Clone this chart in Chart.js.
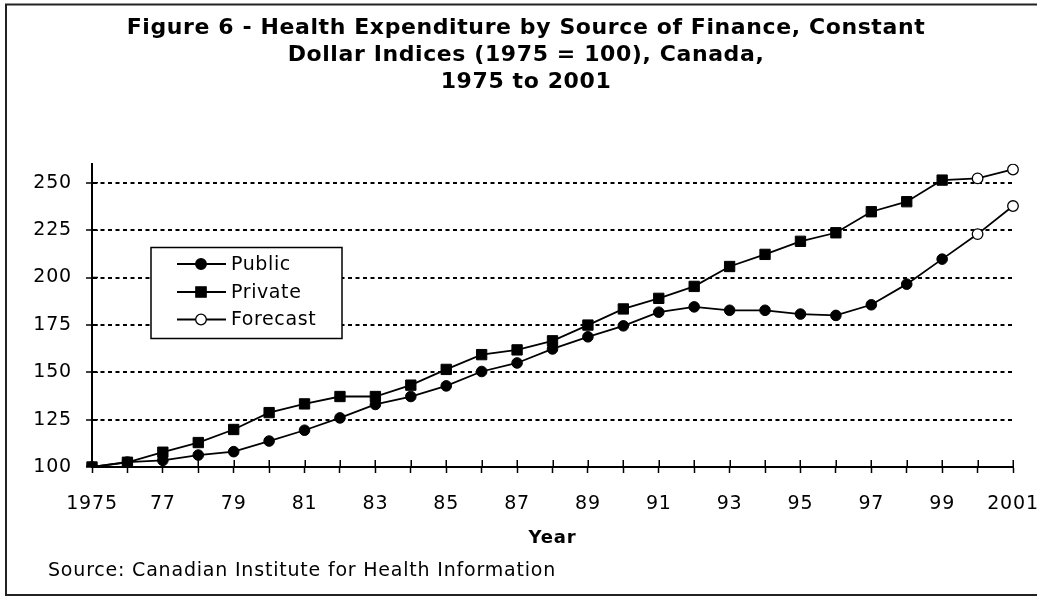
<!DOCTYPE html>
<html>
<head>
<meta charset="utf-8">
<script src="https://cdn.jsdelivr.net/npm/chart.js@4/dist/chart.umd.min.js"></script>
<style>
  html, body { margin: 0; padding: 0; background: #fff; }
  #wrap { width: 1037px; height: 597px; position: relative; }
</style>
</head>
<body>
<div id="wrap"><canvas id="c" width="1037" height="597"></canvas></div>
<script>
// ---- Data ----
const years = ['1975','1976','1977','1978','1979','1980','1981','1982','1983','1984','1985','1986','1987','1988','1989','1990','1991','1992','1993','1994','1995','1996','1997','1998','1999','2000','2001'];
const xTickLabels = ['1975','','77','','79','','81','','83','','85','','87','','89','','91','','93','','95','','97','','99','','2001'];
const yTickValues = [100, 125, 150, 175, 200, 225, 250];
const publicValues = [100, 102.6, 103.5, 106.3, 108.1, 113.7, 119.4, 125.9, 133.0, 137.2, 142.8, 150.4, 154.9, 162.3, 168.7, 174.5, 181.7, 184.5, 182.7, 182.7, 180.7, 180.0, 185.6, 196.5, 209.7];
const privateValues = [100, 102.5, 107.8, 112.9, 119.8, 128.7, 133.3, 137.2, 137.2, 143.2, 151.5, 159.3, 161.8, 166.6, 174.9, 183.4, 189.0, 195.3, 205.8, 212.2, 219.1, 223.6, 234.7, 240.0, 251.4];
const forecastPublic = [222.9, 237.7];
const forecastPrivate = [252.3, 257.0];
const titleLines = ['Figure 6 - Health Expenditure by Source of Finance, Constant', 'Dollar Indices (1975 = 100), Canada,', '1975 to 2001'];
const sourceText = 'Source: Canadian Institute for Health Information';
const legendLabels = ['Public', 'Private', 'Forecast'];

// build forecast series joined to last actual point (1999)
const nActual = publicValues.length;
function forecastSeries(actual, fc) {
  const arr = years.map(() => null);
  arr[nActual - 1] = actual[nActual - 1];
  fc.forEach((v, i) => { arr[nActual + i] = v; });
  return arr;
}
const fcPub = forecastSeries(publicValues, forecastPublic);
const fcPriv = forecastSeries(privateValues, forecastPrivate);

const FONT = "'DejaVu Sans', Verdana, sans-serif";
const SPACING = '0.8px';

const decorPlugin = {
  id: 'decor',
  beforeLayout(chart) { chart.ctx.letterSpacing = SPACING; },
  beforeDraw(chart) {
    const ctx = chart.ctx;
    ctx.letterSpacing = SPACING;
    ctx.save();
    ctx.fillStyle = '#fff';
    ctx.fillRect(0, 0, chart.width, chart.height);
    ctx.restore();
  },
  afterDraw(chart) {
    const ctx = chart.ctx;
    const xs = chart.scales.x, ys = chart.scales.y;
    ctx.save();
    // outer frame
    ctx.strokeStyle = '#222';
    ctx.lineWidth = 2;
    ctx.strokeRect(6, 4.5, 1060, 590.5);
    // title
    ctx.fillStyle = '#000';
    ctx.textAlign = 'center';
    ctx.textBaseline = 'alphabetic';
    ctx.font = "bold 22px " + FONT;
    ctx.letterSpacing = '0.6px';
    const tb = [33.8, 60.8, 87.8];
    titleLines.forEach((t, i) => ctx.fillText(t, 526, tb[i]));
    // source
    ctx.textAlign = 'left';
    ctx.font = "19px " + FONT;
    ctx.letterSpacing = '0.8px';
    ctx.fillText(sourceText, 48, 575.5);
    // inner halves of crossing tick marks
    ctx.strokeStyle = '#000';
    ctx.lineWidth = 1.5;
    ctx.beginPath();
    xs.ticks.forEach((t, i) => {
      const x = Math.round(xs.getPixelForTick(i)) + 0.25;
      ctx.moveTo(x, xs.top); ctx.lineTo(x, xs.top - 7);
    });
    ys.ticks.forEach((t, i) => {
      const y = ys.getPixelForValue(t.value);
      ctx.moveTo(ys.right, y); ctx.lineTo(ys.right + 6, y);
    });
    ctx.stroke();
    // legend
    const lx = 151, ly = 247.5, lw = 191, lh = 91;
    ctx.fillStyle = '#fff';
    ctx.fillRect(lx, ly, lw, lh);
    ctx.strokeStyle = '#000';
    ctx.lineWidth = 1.5;
    ctx.strokeRect(lx, ly, lw, lh);
    const rows = [264, 292, 319.5];
    const styles = [
      {style: 'circle', r: 5.3, fill: '#000'},
      {style: 'rect', r: 7.3, fill: '#000'},
      {style: 'circle', r: 5.3, fill: '#fff'}
    ];
    ctx.font = "19px " + FONT;
    ctx.letterSpacing = '0.6px';
    ctx.textBaseline = 'middle';
    ctx.textAlign = 'left';
    rows.forEach((y, i) => {
      ctx.strokeStyle = '#000';
      ctx.lineWidth = 1.8;
      ctx.beginPath();
      ctx.moveTo(177, y); ctx.lineTo(226, y);
      ctx.stroke();
      ctx.fillStyle = styles[i].fill;
      ctx.lineWidth = 1.3;
      Chart.helpers.drawPoint(ctx, {pointStyle: styles[i].style, radius: styles[i].r, borderWidth: 1.3, rotation: 0}, 201, y);
      ctx.fillStyle = '#000';
      ctx.fillText(legendLabels[i], 231, y + 1);
    });
    ctx.restore();
  }
};

new Chart(document.getElementById('c'), {
  type: 'line',
  data: {
    labels: years,
    datasets: [
      { label: 'Forecast', data: fcPub, borderColor: '#000', borderWidth: 1.8,
        pointStyle: 'circle', pointRadius: years.map((_, i) => i >= nActual ? 5.3 : 0),
        pointBackgroundColor: '#fff', pointBorderColor: '#000', pointBorderWidth: 1.3, spanGaps: false },
      { label: 'Forecast ', data: fcPriv, borderColor: '#000', borderWidth: 1.8,
        pointStyle: 'circle', pointRadius: years.map((_, i) => i >= nActual ? 5.3 : 0),
        pointBackgroundColor: '#fff', pointBorderColor: '#000', pointBorderWidth: 1.3, spanGaps: false },
      { label: 'Public', data: publicValues, borderColor: '#000', borderWidth: 1.8,
        pointStyle: 'circle', pointRadius: 5.3, pointBackgroundColor: '#000', pointBorderColor: '#000', pointBorderWidth: 1 },
      { label: 'Private', data: privateValues, borderColor: '#000', borderWidth: 1.8,
        pointStyle: 'rect', pointRadius: 7.3, pointBackgroundColor: '#000', pointBorderColor: '#000', pointBorderWidth: 1 }
    ]
  },
  options: {
    responsive: false,
    animation: false,
    devicePixelRatio: 1,
    layout: { padding: { left: 8, right: 24, top: 163.8, bottom: 48 } },
    plugins: {
      legend: { display: false },
      title: { display: false },
      tooltip: { enabled: false }
    },
    elements: { line: { tension: 0 } },
    scales: {
      x: {
        type: 'category',
        offset: false,
        grid: { display: true, drawOnChartArea: false, drawTicks: true, tickLength: 6, tickColor: '#000', tickWidth: 1.5 },
        border: { display: true, color: '#000', width: 2 },
        ticks: {
          autoSkip: false, maxRotation: 0, minRotation: 0, padding: 20,
          color: '#000', font: { family: FONT, size: 19 },
          callback: (v, i) => xTickLabels[i]
        },
        title: { display: true, text: 'Year', color: '#000', font: { family: FONT, size: 18, weight: 'bold' }, padding: { top: 0, bottom: 0 } },
        afterFit: (s) => { s.height = 82; s.paddingLeft = 0; s.paddingRight = 0; }
      },
      y: {
        type: 'linear',
        min: 100, max: 260,
        afterBuildTicks: (s) => { s.ticks = yTickValues.map(v => ({ value: v })); },
        grid: {
          display: true, drawOnChartArea: true, drawTicks: true, tickLength: 6,
          color: (c) => (c.tick && c.tick.value === 100) ? 'rgba(0,0,0,0)' : '#000',
          lineWidth: 2, tickColor: '#000', tickWidth: 1.5
        },
        border: { display: true, color: '#000', width: 2, dash: [4, 3.5] },
        ticks: { padding: 14, color: '#000', font: { family: FONT, size: 19 } },
        afterFit: (s) => { s.width = 84; s.paddingTop = 0; s.paddingBottom = 0; }
      }
    }
  },
  plugins: [decorPlugin]
});
</script>
</body>
</html>
